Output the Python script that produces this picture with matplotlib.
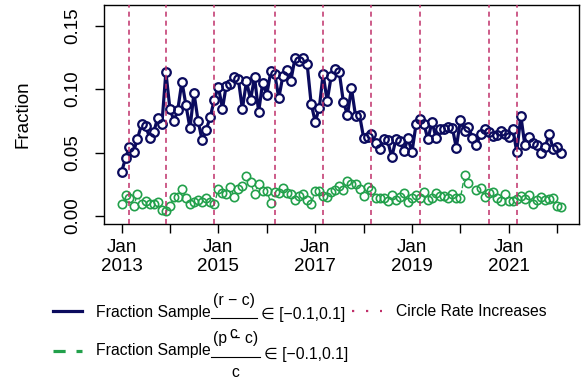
import numpy as np
import pandas as pd
import matplotlib
matplotlib.use('Agg')
import matplotlib.pyplot as plt
import matplotlib.dates as mdates
from matplotlib.lines import Line2D

plt.rcParams['font.family'] = ['Liberation Sans', 'DejaVu Sans']

# monthly data, Jan 2013 - Feb 2022
months = pd.date_range('2013-01-01', periods=110, freq='MS')

frac_rc = [0.035, 0.0457, 0.0547, 0.0505, 0.061, 0.0723, 0.071, 0.0616, 0.0664, 0.0776,
           0.0723, 0.1134, 0.0842, 0.075, 0.0837, 0.106, 0.0877, 0.069, 0.097, 0.075,
           0.0595, 0.068, 0.078, 0.0917, 0.102, 0.0845, 0.1026, 0.104, 0.1094, 0.1078,
           0.0842, 0.1062, 0.0917, 0.1094, 0.082, 0.105, 0.0956, 0.1142, 0.112, 0.093,
           0.110, 0.1152, 0.1068, 0.1243, 0.1225, 0.1243, 0.1196, 0.0886, 0.0742, 0.0855,
           0.112, 0.0906, 0.110, 0.116, 0.1134, 0.090, 0.0797, 0.1007, 0.0789, 0.0795,
           0.0616, 0.0622, 0.0648, 0.0576, 0.0528, 0.0608, 0.0595, 0.0462, 0.0603, 0.059,
           0.051, 0.0611, 0.0505, 0.0728, 0.0763, 0.0723, 0.0603, 0.0744, 0.0616, 0.0688,
           0.0683, 0.0701, 0.0696, 0.0537, 0.0755, 0.067, 0.0704, 0.0616, 0.0556, 0.0648,
           0.0688, 0.0660, 0.063, 0.0638, 0.067, 0.0650, 0.0625, 0.0683, 0.0503, 0.0789,
           0.0558, 0.0620, 0.0576, 0.0556, 0.0497, 0.0542, 0.0645, 0.0525, 0.0547, 0.0494]

frac_pc = [0.0093, 0.0165, 0.0143, 0.0077, 0.017, 0.0093, 0.012, 0.0096, 0.009, 0.0112,
           0.0045, 0.0042, 0.008, 0.0151, 0.0151, 0.021, 0.0138, 0.009, 0.0106, 0.0122,
           0.0112, 0.0143, 0.0109, 0.009, 0.0213, 0.0178, 0.0173, 0.0231, 0.0146, 0.0213,
           0.0237, 0.0311, 0.0265, 0.0173, 0.0253, 0.0197, 0.0197, 0.0104, 0.0186, 0.0178,
           0.0218, 0.0178, 0.017, 0.0125, 0.0157, 0.017, 0.0125, 0.0093, 0.0197, 0.0197,
           0.0159, 0.0146, 0.0191, 0.0205, 0.0234, 0.0205, 0.0277, 0.0248, 0.025, 0.0214,
           0.0154, 0.0228, 0.0202, 0.0138, 0.0138, 0.0138, 0.0117, 0.0162, 0.0125, 0.0147,
           0.0178, 0.0109, 0.0138, 0.0165, 0.0138, 0.0186, 0.0125, 0.0138, 0.0178, 0.0157,
           0.0157, 0.0138, 0.0173, 0.0138, 0.0138, 0.0319, 0.0258, np.nan, 0.0205, 0.0218,
           0.0151, 0.0178, 0.0186, 0.0138, 0.012, 0.0172, 0.012, 0.012, 0.013, 0.0157,
           0.0133, 0.0168, 0.009, 0.0125, 0.0148, 0.0125, 0.0135, 0.0143, 0.008, 0.0072]

rate_increases = pd.to_datetime(['2013-03-01', '2013-12-01', '2014-12-01', '2016-03-01',
                                 '2017-03-01', '2018-03-01', '2019-03-01', '2020-08-01',
                                 '2021-03-01'])

year_ticks = pd.date_range('2013-01-01', '2022-01-01', freq='YS')
year_labels = ['Jan\n2013', '', 'Jan\n2015', '', 'Jan\n2017', '', 'Jan\n2019', '',
               'Jan\n2021', '']

navy = '#0b0b5e'
green = '#22a04b'
pink = '#c0306a'

fig = plt.figure(figsize=(5.82, 3.81), dpi=100)
ax = fig.add_axes([104 / 582, 1 - 224 / 381, 475 / 582, 219 / 381])

# navy series: line with open circles (R type="b")
ax.plot(months, frac_rc, color=navy, lw=2.3, zorder=2)
ax.plot(months, frac_rc, 'o', ms=6.2, mfc='white', mec='none', zorder=2.5)
ax.plot(months, frac_rc, 'o', ms=6.2, mfc='none', mec=navy, mew=1.6, zorder=3)

# green series
ax.plot(months, frac_pc, color=green, lw=1.0, ls='--', zorder=2)
ax.plot(months, frac_pc, 'o', ms=6.0, mfc='white', mec='none', zorder=2.5)
ax.plot(months, frac_pc, 'o', ms=6.0, mfc='none', mec=green, mew=1.2, zorder=3)

for d in rate_increases:
    ax.axvline(d, color=pink, lw=1.1, ls=(0, (3.3, 2.6)), zorder=4)

x0 = mdates.date2num(months[0])
x1 = mdates.date2num(months[-1])
ax.set_xlim(x0 - 0.04 * (x1 - x0), x1 + 0.04 * (x1 - x0))
ax.set_ylim(-0.0064, 0.1664)

ax.set_xticks(year_ticks)
ax.set_xticklabels(year_labels)
ax.set_yticks([0, 0.05, 0.10, 0.15])
ax.set_yticklabels(['0.00', '0.05', '0.10', '0.15'], rotation=90, va='center')
ax.tick_params(axis='both', direction='out', length=6.5, width=1, labelsize=13.5,
               color='black')
ax.tick_params(axis='x', pad=4)
ax.tick_params(axis='y', pad=10)
for s in ax.spines.values():
    s.set_linewidth(1)

ax.set_ylabel('Fraction', fontsize=13.5)
ax.yaxis.set_label_coords(-0.152, 0.5)

# legend drawn by hand below the plot (pixel positions)
W, H = 582, 381
fs = 11.3
renderer = fig.canvas.get_renderer()

def fx(x):
    return x / W

def fy(y):
    return 1 - y / H

def legend_row(yb, numer):
    # yb = pixel row of the fraction bar
    t = fig.text(fx(96), fy(yb - 6), 'Fraction Sample', fontsize=fs, va='center')
    x_end = t.get_window_extent(renderer).x1
    num = fig.text(0, fy(yb - 18), numer, fontsize=fs, va='center', ha='center')
    nw = num.get_window_extent(renderer).width
    bar0, bar1 = x_end, x_end + nw + 4
    mid = (bar0 + bar1) / 2
    num.set_x(mid / W)
    fig.add_artist(Line2D([bar0 / W, bar1 / W], [fy(yb), fy(yb)], color='black', lw=0.8))
    fig.text(mid / W, fy(yb + 20), 'c', fontsize=fs, va='baseline', ha='center')
    fig.text((bar1 + 4) / W, fy(yb - 3), '\u2208 [\u22120.1,0.1]', fontsize=fs,
             va='center')

legend_row(318, '(r \u2212 c)')
legend_row(357, '(p \u2212 c)')

fig.add_artist(Line2D([fx(53), fx(82)], [fy(311), fy(311)], color=navy, lw=2.3))
fig.add_artist(Line2D([fx(53), fx(82)], [fy(351), fy(351)], color=green, lw=2.3,
                      ls=(0, (3.8, 3.4))))
fig.add_artist(Line2D([fx(352), fx(382)], [fy(311), fy(311)], color=pink, lw=1.6,
                      ls=(0, (1, 5.3))))
fig.text(fx(396), fy(311), 'Circle Rate Increases', fontsize=fs, va='center')

fig.savefig('out.png', dpi=100)
